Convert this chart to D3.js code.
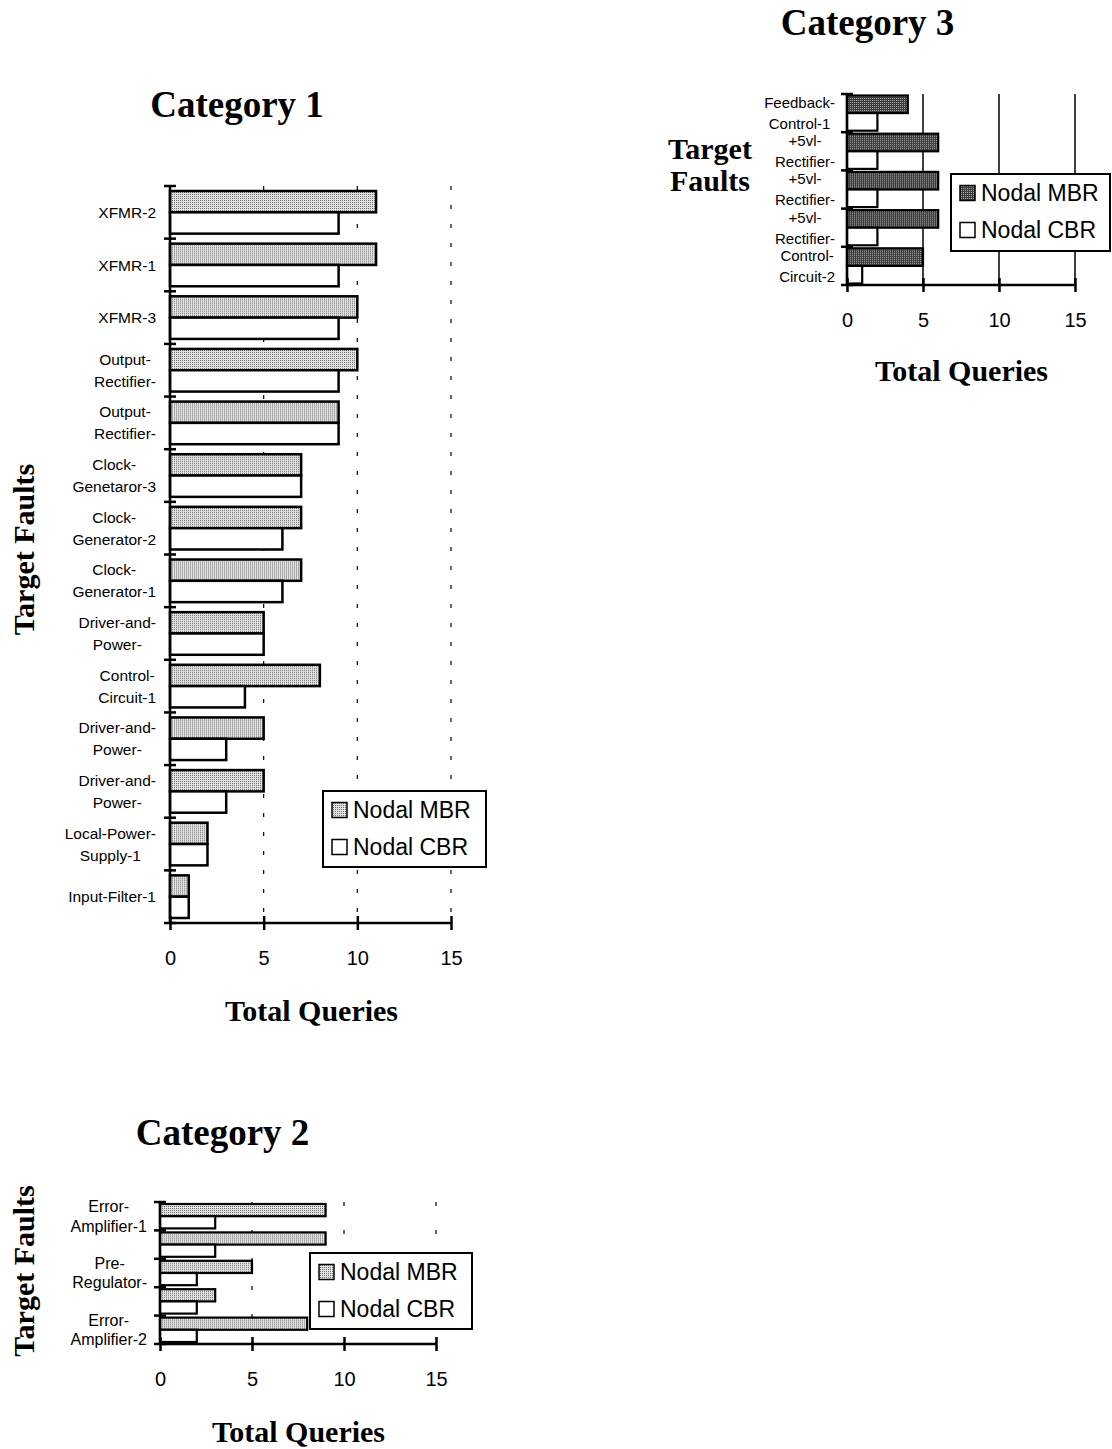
<!DOCTYPE html>
<html>
<head>
<meta charset="utf-8">
<script src="https://cdn.jsdelivr.net/npm/d3@7"></script>
<style>
  html, body { margin: 0; padding: 0; background: #fff; }
  svg { display: block; }
</style>
</head>
<body>
<svg id="chart" width="1112" height="1449"></svg>
<script>
// ---------------- DATA ----------------
const seriesNames = ["Nodal MBR", "Nodal CBR"];
const xTicks = [0, 5, 10, 15];

const cat1Labels = ["XFMR-2", "XFMR-1", "XFMR-3", "Output-\nRectifier-", "Output-\nRectifier-",
  "Clock-\nGenetaror-3", "Clock-\nGenerator-2", "Clock-\nGenerator-1", "Driver-and-\nPower-",
  "Control-\nCircuit-1", "Driver-and-\nPower-", "Driver-and-\nPower-", "Local-Power-\nSupply-1",
  "Input-Filter-1"];
const cat1MBR = [11, 11, 10, 10, 9, 7, 7, 7, 5, 8, 5, 5, 2, 1];
const cat1CBR = [9, 9, 9, 9, 9, 7, 6, 6, 5, 4, 3, 3, 2, 1];

const cat2Labels = ["Error-\nAmplifier-1", "", "Pre-\nRegulator-", "", "Error-\nAmplifier-2"];
const cat2MBR = [9, 9, 5, 3, 8];
const cat2CBR = [3, 3, 2, 2, 2];

const cat3Labels = ["Feedback-\nControl-1", "+5vl-\nRectifier-", "+5vl-\nRectifier-",
  "+5vl-\nRectifier-", "Control-\nCircuit-2"];
const cat3MBR = [4, 6, 6, 6, 5];
const cat3CBR = [2, 2, 2, 2, 1];

// ---------------- DRAWING ----------------
const svg = d3.select("#chart");
const SANS = "'Liberation Sans', Arial, sans-serif";
const SERIF = "'Liberation Serif', 'Times New Roman', serif";

const defs = svg.append("defs");
function stipple(id, bg, dot) {
  const p = defs.append("pattern").attr("id", id).attr("patternUnits", "userSpaceOnUse")
    .attr("width", 2).attr("height", 2);
  p.append("rect").attr("width", 2).attr("height", 2).attr("fill", bg);
  p.append("rect").attr("width", 1).attr("height", 1).attr("fill", dot);
  p.append("rect").attr("x", 1).attr("y", 1).attr("width", 1).attr("height", 1).attr("fill", bg);
}
stipple("lightDots", "#e2e2e2", "#707070");
stipple("darkDots", "#3c3c3c", "#a8a8a8");

function drawChart(c) {
  const g = svg.append("g");
  const x = d3.scaleLinear().domain([0, 15]).range([c.x0, c.x1]);
  const idx = d3.range(c.labels.length);
  const y = d3.scaleBand().domain(idx).range([c.y0, c.y1]).padding(0);
  const bw = y.bandwidth();
  const ys = d3.scaleBand().domain([0, 1]).range([c.inset, bw - c.inset]).padding(0);

  // gridlines
  g.append("g").selectAll("line").data(xTicks.filter(t => t > 0)).join("line")
    .attr("x1", d => x(d)).attr("x2", d => x(d))
    .attr("y1", c.y0).attr("y2", c.y1)
    .attr("stroke", "#000")
    .attr("stroke-width", c.solidGrid ? 1.5 : 1.2)
    .attr("stroke-dasharray", c.solidGrid ? null : c.dash);

  // bars
  const rows = idx.map(i => ({ i, vals: [c.mbr[i], c.cbr[i]] }));
  const rg = g.append("g").selectAll("g").data(rows).join("g")
    .attr("transform", d => `translate(0,${y(d.i)})`);
  rg.selectAll("rect").data(d => d.vals.map((v, k) => ({ v, k }))).join("rect")
    .attr("x", x(0)).attr("y", d => ys(d.k))
    .attr("width", d => x(d.v) - x(0)).attr("height", ys.bandwidth())
    .attr("fill", d => d.k === 0 ? `url(#${c.pattern})` : "#fff")
    .attr("stroke", "#000").attr("stroke-width", c.barStroke);

  // x axis
  const xa = g.append("g").attr("transform", `translate(0,${c.y1})`)
    .call(d3.axisBottom(x).tickValues(xTicks).tickSize(7).tickFormat(d3.format("d")));
  xa.select(".domain").remove();
  xa.selectAll(".tick line").attr("y1", -7).attr("y2", 7).attr("stroke", "#000").attr("stroke-width", 2.5);
  xa.selectAll(".tick text").attr("y", 0).attr("dy", 42)
    .attr("font-family", SANS).attr("font-size", 20).attr("fill", "#000");
  g.append("line").attr("x1", x(0)).attr("x2", x(15)).attr("y1", c.y1).attr("y2", c.y1)
    .attr("stroke", "#000").attr("stroke-width", 2.5);

  // y axis + boundary ticks
  const bounds = idx.map(i => y(i)).concat([c.y1]);
  g.append("g").selectAll("line").data(bounds).join("line")
    .attr("x1", x(0) - 6).attr("x2", x(0) + 6).attr("y1", d => d).attr("y2", d => d)
    .attr("stroke", "#000").attr("stroke-width", 2.5);
  g.append("line").attr("x1", x(0)).attr("x2", x(0)).attr("y1", c.y0).attr("y2", c.y1)
    .attr("stroke", "#000").attr("stroke-width", 2.5);

  // category labels
  const capH = 0.716 * c.labelSize;
  idx.forEach(i => {
    const lab = c.labels[i];
    if (!lab) return;
    const lines = lab.split("\n");
    const cy = y(i) + bw / 2;
    const t = g.append("text").attr("font-family", SANS).attr("font-size", c.labelSize)
      .attr("text-anchor", "middle").attr("fill", "#000");
    lines.forEach((ln, k) => {
      const base = cy - (lines.length - 1) * c.lineSp / 2 + k * c.lineSp + capH / 2;
      t.append("tspan").attr("x", 0).attr("y", base).text(ln);
    });
    const w = t.node().getBBox().width;
    t.attr("transform", `translate(${c.labelRight - w / 2},0)`);
  });

  // legend
  const L = c.legend;
  const lg = g.append("g").attr("transform", `translate(${L.x},${L.y})`);
  lg.append("rect").attr("width", L.w).attr("height", L.h)
    .attr("fill", "#fff").attr("stroke", "#000").attr("stroke-width", 2);
  seriesNames.forEach((s, k) => {
    const cyy = k === 0 ? 19 : 56;
    lg.append("rect").attr("x", 9).attr("y", cyy - 7.5).attr("width", 15).attr("height", 15)
      .attr("fill", k === 0 ? `url(#${c.pattern})` : "#fff")
      .attr("stroke", "#000").attr("stroke-width", 1.5);
    lg.append("text").attr("x", 30).attr("y", cyy + 0.716 * 23 / 2)
      .attr("font-family", SANS).attr("font-size", 23).attr("fill", "#000").text(s);
  });

  // titles
  g.append("text").attr("x", c.title.x).attr("y", c.title.y).attr("text-anchor", "middle")
    .attr("font-family", SERIF).attr("font-weight", "bold").attr("font-size", 37).text(c.title.text);
  g.append("text").attr("x", c.xTitle.x).attr("y", c.xTitle.y).attr("text-anchor", "middle")
    .attr("font-family", SERIF).attr("font-weight", "bold").attr("font-size", 30).text("Total Queries");
  if (c.yTitle.rotated) {
    g.append("text").attr("transform", `translate(${c.yTitle.x},${c.yTitle.y}) rotate(-90)`)
      .attr("text-anchor", "middle").attr("font-family", SERIF).attr("font-weight", "bold")
      .attr("font-size", 30).text("Target Faults");
  } else {
    ["Target", "Faults"].forEach((w, k) => {
      g.append("text").attr("x", c.yTitle.x).attr("y", c.yTitle.y + k * 32).attr("text-anchor", "middle")
        .attr("font-family", SERIF).attr("font-weight", "bold").attr("font-size", 30).text(w);
    });
  }
}

drawChart({
  labels: cat1Labels, mbr: cat1MBR, cbr: cat1CBR,
  x0: 170, x1: 451, y0: 186, y1: 923, inset: 5, barStroke: 2.5,
  pattern: "lightDots", solidGrid: false, dash: "4 15",
  labelSize: 15.5, lineSp: 22, labelRight: 156,
  legend: { x: 323, y: 791, w: 163, h: 76 },
  title: { text: "Category 1", x: 237, y: 117 },
  xTitle: { x: 311.5, y: 1021 },
  yTitle: { rotated: true, x: 34, y: 549.5 }
});

drawChart({
  labels: cat2Labels, mbr: cat2MBR, cbr: cat2CBR,
  x0: 160, x1: 436, y0: 1202, y1: 1344, inset: 2, barStroke: 2.2,
  pattern: "lightDots", solidGrid: false, dash: "4 24",
  labelSize: 16, lineSp: 19.5, labelRight: 147,
  legend: { x: 310, y: 1253, w: 162, h: 76 },
  title: { text: "Category 2", x: 222.5, y: 1145 },
  xTitle: { x: 298.5, y: 1442 },
  yTitle: { rotated: true, x: 34, y: 1271 }
});

drawChart({
  labels: cat3Labels, mbr: cat3MBR, cbr: cat3CBR,
  x0: 847, x1: 1075, y0: 94, y1: 285, inset: 1.5, barStroke: 2.2,
  pattern: "darkDots", solidGrid: true,
  labelSize: 15, lineSp: 21, labelRight: 835,
  legend: { x: 951, y: 174, w: 159, h: 77 },
  title: { text: "Category 3", x: 867.5, y: 35 },
  xTitle: { x: 961.5, y: 381 },
  yTitle: { rotated: false, x: 710, y: 159 }
});
</script>
</body>
</html>
